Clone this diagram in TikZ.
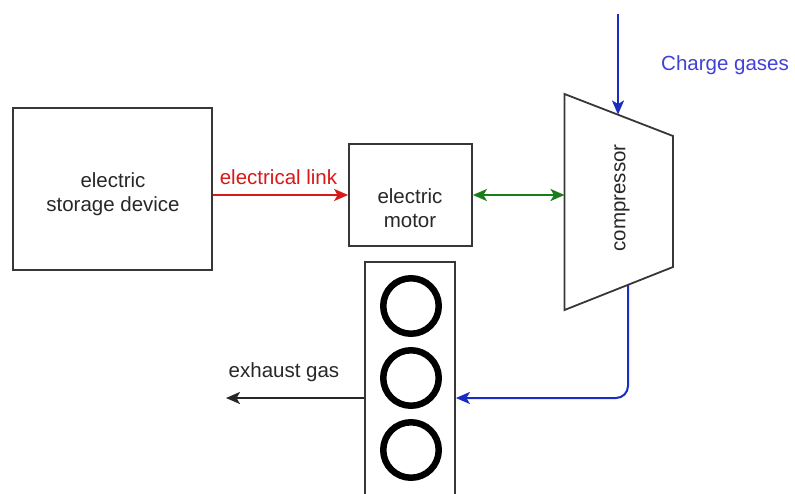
\documentclass[tikz,border=0pt]{standalone}
\usepackage{fontspec}
\setmainfont{Liberation Sans}
\usetikzlibrary{arrows.meta}
\definecolor{boxgray}{RGB}{55,55,55}
\definecolor{txtgray}{RGB}{40,40,40}
\definecolor{linkred}{RGB}{215,25,25}
\definecolor{linkgreen}{RGB}{25,125,25}
\definecolor{gasblue}{RGB}{25,45,195}
\definecolor{textblue}{RGB}{65,65,215}
\tikzset{
  box/.style={draw=boxgray, line width=1.8pt, rectangle, inner sep=0pt},
  lbl/.style={font=\fontsize{20.5}{24.5}\selectfont, text=txtgray, align=center, inner sep=0pt},
  conn/.style={line width=2pt, -{Stealth[length=14pt,width=12pt,inset=3.5pt]}},
  cyl/.style={draw=black, line width=6.5pt, circle, minimum size=55.5pt, inner sep=0pt},
}
\begin{document}
\begin{tikzpicture}[x=1pt,y=-1pt]
\clip (0,0) rectangle (795,493);
\fill[white] (0,0) rectangle (795,493);
% storage
\node[box, minimum width=199pt, minimum height=162pt] (storage) at (112.5,189) {};
\node[lbl] (storagetxt) at (113,194) {electric\\storage device};
% motor
\node[box, minimum width=123pt, minimum height=102pt] (motor) at (410.5,195) {};
\node[lbl] (motortxt) at (410,208) {electric\\motor};
% engine
\node[box, minimum width=90pt, minimum height=260pt, anchor=north] (engine) at (410,261) {};
\node[cyl] (c1) at (411,306) {};
\node[cyl] (c2) at (411,378) {};
\node[cyl] (c3) at (411,450) {};
% compressor
\coordinate (ctl) at (564.5,94);
\coordinate (ctr) at (673,136);
\coordinate (cbr) at (673,267);
\coordinate (cbl) at (564.5,310);
\draw[draw=boxgray, line width=1.8pt, line join=miter] (ctl) -- (ctr) -- (cbr) -- (cbl) -- cycle;
\node[lbl, rotate=90] (comptxt) at (622,198) {compressor};
\coordinate (compleft) at (564.5,195);
\coordinate (comptop) at (618,114.5);
\coordinate (compbot) at (628,285);
% charge gas
\coordinate (gasin) at (618,14);
\node[lbl, text=textblue, anchor=west] (gastxt) at (661,65) {Charge gases};
\draw[conn, gasblue] (gasin) -- (comptop);
% compressor to engine
\draw[conn, gasblue, rounded corners=12pt] (compbot) -- (628,398) -- (engine.east |- 0,398);
% electrical link
\draw[conn, linkred] (storage.east |- 0,195) -- (motor.west |- 0,195);
\node[lbl, text=linkred, anchor=south] (linktxt) at (278.5,185) {electrical link};
% motor - compressor
\draw[line width=2pt, linkgreen, {Stealth[length=14pt,width=12pt,inset=3.5pt]}-{Stealth[length=14pt,width=12pt,inset=3.5pt]}] (motor.east |- 0,195) -- (compleft);
% exhaust
\coordinate (exout) at (226,398);
\draw[conn, black!85] (engine.west |- 0,398) -- (exout);
\node[lbl, anchor=south] (extxt) at (284,382) {exhaust gas};
\end{tikzpicture}
\end{document}
